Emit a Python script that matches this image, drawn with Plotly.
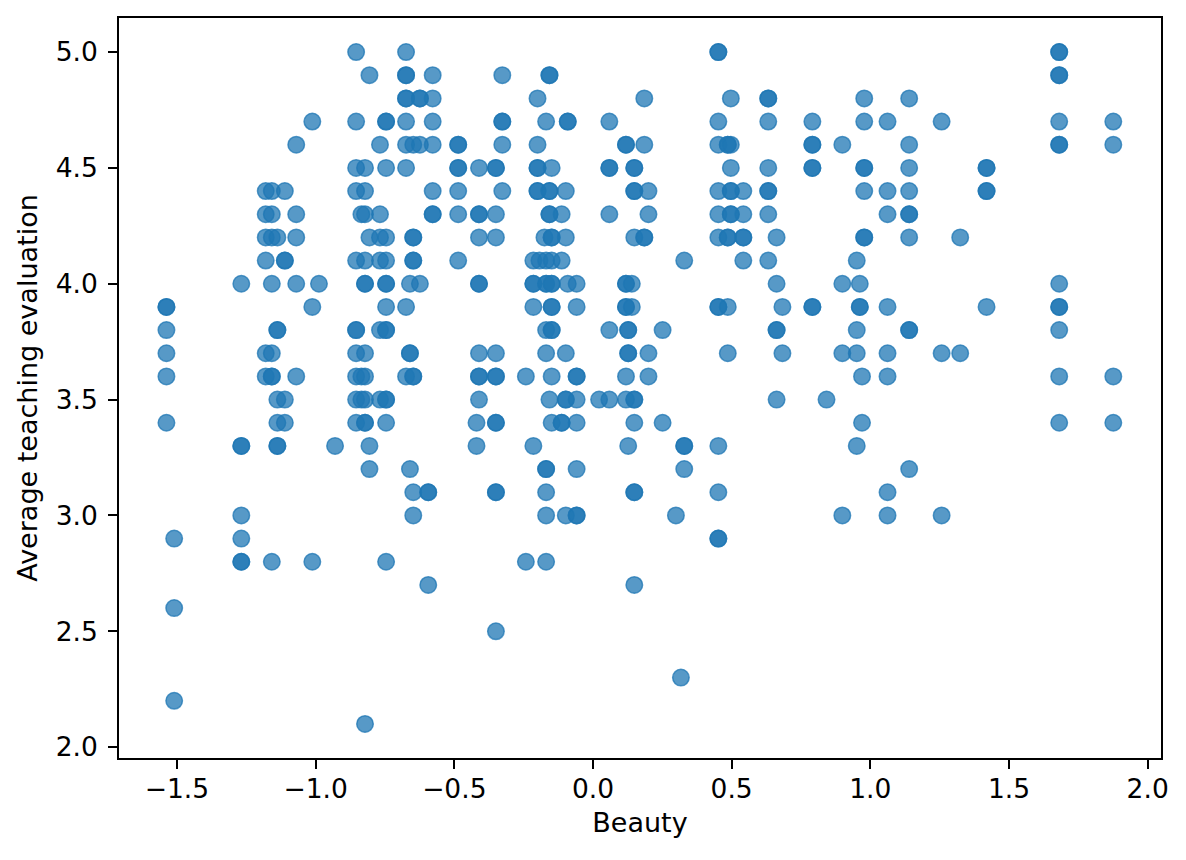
import plotly.graph_objects as go

# beauty score of each instructor (one column of points per instructor)
beauty = [
    -1.538, -1.51, -1.268, -1.18, -1.158, -1.138, -1.111, -1.07, -1.012, -0.988,
    -0.93, -0.854, -0.835, -0.822, -0.806, -0.768, -0.746, -0.674, -0.66, -0.648,
    -0.624, -0.594, -0.578, -0.486, -0.42, -0.411, -0.35, -0.327, -0.242, -0.215,
    -0.2, -0.193, -0.175, -0.169, -0.157, -0.149, -0.113, -0.098, -0.091, -0.059,
    0.022, 0.059, 0.119, 0.127, 0.14, 0.149, 0.185, 0.2, 0.251, 0.299,
    0.317, 0.329, 0.452, 0.486, 0.497, 0.542, 0.632, 0.662, 0.683, 0.791,
    0.842, 0.899, 0.951, 0.962, 0.97, 0.978, 1.062, 1.14, 1.257, 1.324,
    1.419, 1.681, 1.876,
]

# course evaluations for each instructor, same order as beauty
evals = [
    [3.9, 3.9, 3.8, 3.7, 3.6, 3.4],
    [2.9, 2.6, 2.2],
    [4.0, 3.3, 3.3, 3.0, 2.9, 2.8, 2.8],
    [4.4, 4.3, 4.2, 4.1, 3.7, 3.6],
    [4.4, 4.3, 4.2, 4.0, 3.7, 3.6, 3.6, 2.8],
    [4.2, 3.8, 3.8, 3.5, 3.4, 3.3, 3.3],
    [4.4, 4.1, 4.1, 3.5, 3.4],
    [4.6, 4.3, 4.2, 4.0, 3.6],
    [4.7, 3.9, 2.8],
    [4.0],
    [3.3],
    [5.0, 4.7, 4.5, 4.4, 4.1, 3.8, 3.8, 3.7, 3.6, 3.5, 3.4],
    [4.3, 3.6, 3.5],
    [4.5, 4.4, 4.3, 4.1, 4.0, 4.0, 3.7, 3.6, 3.5, 3.4, 3.4, 2.1],
    [4.9, 4.2, 3.3, 3.2],
    [4.6, 4.3, 4.2, 4.1, 3.8, 3.5],
    [4.7, 4.7, 4.5, 4.2, 4.1, 4.0, 4.0, 3.9, 3.8, 3.8, 3.5, 3.5, 3.4, 2.8],
    [5.0, 4.9, 4.9, 4.8, 4.8, 4.7, 4.6, 4.5, 3.9, 3.6],
    [4.0, 3.7, 3.7, 3.2],
    [4.6, 4.2, 4.2, 4.1, 4.1, 3.6, 3.6, 3.1, 3.0],
    [4.8, 4.8, 4.6, 4.0],
    [3.1, 3.1, 2.7],
    [4.9, 4.8, 4.7, 4.6, 4.4, 4.3, 4.3],
    [4.6, 4.6, 4.5, 4.5, 4.4, 4.3, 4.1],
    [3.4, 3.3],
    [4.5, 4.3, 4.3, 4.2, 4.0, 4.0, 3.7, 3.6, 3.6, 3.5],
    [4.5, 4.5, 4.3, 4.2, 3.7, 3.6, 3.6, 3.4, 3.4, 3.1, 3.1, 2.5],
    [4.9, 4.7, 4.7, 4.6, 4.4],
    [3.6, 2.8],
    [4.1, 4.0, 4.0, 3.9, 3.3],
    [4.8, 4.6, 4.5, 4.5, 4.4, 4.4],
    [4.1],
    [4.2],
    [4.7, 4.1, 4.0, 4.0, 3.8, 3.7, 3.2, 3.2, 3.1, 3.0, 2.8],
    [4.9, 4.9, 4.4, 4.4, 4.3, 4.3, 3.5],
    [4.5, 4.2, 4.2, 4.1, 4.0, 4.0, 3.9, 3.9, 3.8, 3.8, 3.6, 3.4],
    [4.3, 4.1, 3.4, 3.4],
    [4.4, 4.2, 3.7, 3.5, 3.5, 3.0],
    [4.7, 4.7, 4.0],
    [4.0, 3.9, 3.6, 3.6, 3.5, 3.4, 3.2, 3.0, 3.0],
    [3.5],
    [4.7, 4.5, 4.5, 4.3, 3.8, 3.5],
    [4.6, 4.6, 4.0, 4.0, 3.9, 3.9, 3.6, 3.5],
    [3.8, 3.8, 3.7, 3.7, 3.3],
    [4.0, 3.9],
    [4.5, 4.5, 4.4, 4.4, 4.2, 3.5, 3.5, 3.4, 3.1, 3.1, 2.7],
    [4.8, 4.6, 4.2, 4.2],
    [4.4, 4.3, 3.7, 3.6],
    [3.8, 3.4],
    [3.0],
    [2.3],
    [4.1, 3.3, 3.3, 3.2],
    [5.0, 5.0, 4.7, 4.6, 4.4, 4.3, 4.2, 3.9, 3.9, 3.3, 3.1, 2.9, 2.9],
    [4.6, 4.6, 4.2, 4.2, 3.9, 3.7],
    [4.8, 4.6, 4.5, 4.4, 4.4, 4.3, 4.3],
    [4.4, 4.3, 4.2, 4.2, 4.1],
    [4.8, 4.8, 4.7, 4.5, 4.4, 4.4, 4.3, 4.1],
    [4.2, 4.0, 3.8, 3.8, 3.5],
    [3.9, 3.7],
    [4.7, 4.6, 4.6, 4.5, 4.5, 3.9, 3.9],
    [3.5],
    [4.6, 4.0, 3.7, 3.0],
    [4.1, 3.8, 3.7, 3.3],
    [4.0, 3.9, 3.9],
    [3.6, 3.4],
    [4.8, 4.7, 4.5, 4.5, 4.4, 4.2, 4.2],
    [4.7, 4.4, 4.3, 3.9, 3.7, 3.6, 3.1, 3.0],
    [4.8, 4.6, 4.5, 4.4, 4.3, 4.3, 4.2, 3.8, 3.8, 3.2],
    [4.7, 3.7, 3.0],
    [4.2, 3.7],
    [4.5, 4.5, 4.4, 4.4, 3.9],
    [5.0, 5.0, 4.9, 4.9, 4.7, 4.6, 4.6, 4.0, 3.9, 3.9, 3.8, 3.6, 3.4],
    [4.7, 4.6, 3.6, 3.4],
]

x_ticks = [-1.5, -1.0, -0.5, 0.0, 0.5, 1.0, 1.5, 2.0]
y_ticks = [2.0, 2.5, 3.0, 3.5, 4.0, 4.5, 5.0]

xs = [b for b, ev in zip(beauty, evals) for _ in ev]
ys = [v for ev in evals for v in ev]

fig = go.Figure()
fig.add_trace(go.Scatter(
    x=xs, y=ys, mode="markers",
    marker=dict(size=16.5, color="rgba(31,119,180,0.75)",
                line=dict(color="rgba(31,119,180,0.75)", width=1.5)),
    showlegend=False,
))

TICKFONT = dict(family="DejaVu Sans", size=26.5, color="black")
TITLEFONT = dict(family="DejaVu Sans", size=27, color="black")

axis_style = dict(
    showline=True, linecolor="black", linewidth=1.6, mirror=True,
    ticks="outside", ticklen=9, tickwidth=1.6, tickcolor="black",
    showgrid=False, zeroline=False, automargin=False,
    tickfont=TICKFONT,
)

fig.update_xaxes(
    range=[-1.709, 2.048], tickvals=x_ticks,
    ticktext=[f"{t:.1f}".replace("-", "\u2212") for t in x_ticks],
    ticklabelstandoff=-3,
    title=dict(text="Beauty", font=TITLEFONT, standoff=11),
    **axis_style,
)
fig.update_yaxes(
    range=[1.953, 5.147], tickvals=y_ticks,
    ticktext=[f"{t:.1f}" for t in y_ticks],
    ticklabelstandoff=5,
    title=dict(text="Average teaching evaluation", font=TITLEFONT, standoff=10),
    **axis_style,
)

fig.update_layout(
    width=1186, height=860,
    margin=dict(l=111, r=33, t=10, b=110),
    paper_bgcolor="white", plot_bgcolor="white",
    font=dict(family="DejaVu Sans", color="black"),
)

fig.write_html("out.html")
